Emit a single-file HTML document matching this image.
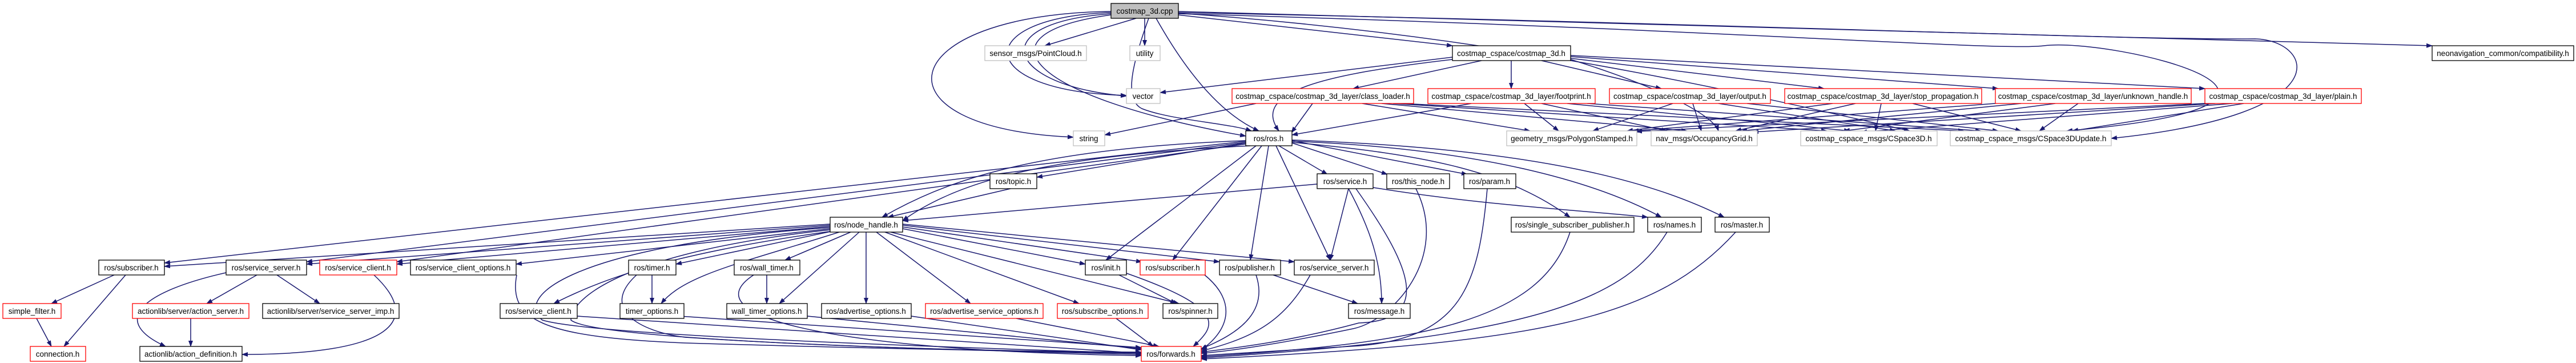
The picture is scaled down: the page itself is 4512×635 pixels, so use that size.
<!DOCTYPE html>
<html><head><meta charset="utf-8"><style>
html,body{margin:0;padding:0;background:#fff;width:4512px;height:635px;overflow:hidden}
svg{display:block}
text{font-family:"Liberation Sans",sans-serif;font-size:13.5px;fill:#000;text-anchor:middle}
.e{fill:none;stroke:#191970;stroke-width:1.5}
.k{fill:#fff;stroke:#000;stroke-width:1.3}
.r{fill:#fff;stroke:#ff0000;stroke-width:1.3}
.g{fill:#fff;stroke:#bfbfbf;stroke-width:1.3}
</style></head><body>
<svg width="4512" height="635" viewBox="0 0 4512 635" xmlns="http://www.w3.org/2000/svg">
<defs><marker id="a" markerUnits="userSpaceOnUse" markerWidth="11" markerHeight="8" refX="10" refY="4" orient="auto"><path d="M0,0 L11,4 L0,8 z" fill="#191970"/></marker></defs>
<g class="e" marker-end="url(#a)">
<path d="M1990,32 L1830,80"/>
<path d="M2005,32 L2005,80"/>
<path d="M1946,22 C1700,30 1700,160 1973,167"/>
<path d="M1946,24 C1720,40 1760,150 1973,168"/>
<path d="M1946,20 C1560,25 1520,225 1880,240"/>
<path d="M2012,32 C1980,120 1970,175 2000,190 C2050,210 2150,215 2192,229"/>
<path d="M1946,26 C1700,60 1800,170 2182,238"/>
<path d="M2025,32 C2080,130 2140,200 2205,229"/>
<path d="M2063,26 L2544,80"/>
<path d="M2063,20 L4260,80"/>
<path d="M2063,22 C3000,40 3700,70 3950,68 C4050,70 4110,200 3698,242"/>
<path d="M2063,24 C3000,50 3500,90 3580,80 C3700,65 4180,180 3620,229"/>
<path d="M2063,23 C2600,60 3000,150 3345,229"/>
<path d="M2544,100 L2032,162"/>
<path d="M2544,104 C2320,130 2190,160 2240,229"/>
<path d="M2595,106 L2370,155"/>
<path d="M2647,106 L2647,155"/>
<path d="M2700,106 L2910,155"/>
<path d="M2751,102 L3195,155"/>
<path d="M2751,99 L3500,155"/>
<path d="M2751,97 L3862,155"/>
<path d="M2751,104 C2900,150 3000,200 3010,229"/>
<path d="M2200,181 L1935,236"/>
<path d="M2299,181 L2262,232"/>
<path d="M2386,181 L2680,229"/>
<path d="M2420,181 L2955,229"/>
<path d="M2440,181 L3200,229"/>
<path d="M2455,181 L3440,229"/>
<path d="M2577,181 L2263,236"/>
<path d="M2670,181 L2730,229"/>
<path d="M2700,181 L2920,229"/>
<path d="M2745,181 L3240,229"/>
<path d="M2780,181 L3470,229"/>
<path d="M2930,181 L2790,229"/>
<path d="M2965,181 L2980,229"/>
<path d="M3010,181 L3320,229"/>
<path d="M3060,181 L3500,229"/>
<path d="M3210,181 L2850,229"/>
<path d="M3250,181 L3040,229"/>
<path d="M3295,181 L3285,229"/>
<path d="M3350,181 L3540,229"/>
<path d="M3495,181 L2860,229"/>
<path d="M3540,181 L3050,229"/>
<path d="M3600,181 L3230,229"/>
<path d="M3640,181 L3572,229"/>
<path d="M3862,181 L2866,230"/>
<path d="M3880,181 L3070,231"/>
<path d="M3910,181 L3260,231"/>
<path d="M3930,181 L3630,229"/>
<path d="M2182,250 L1816,310"/>
<path d="M2190,255 C1900,270 1700,300 1581,386"/>
<path d="M2182,246 C1800,260 1650,320 1545,380"/>
<path d="M2182,247 L288,460"/>
<path d="M2182,249 L537,458"/>
<path d="M2182,252 L695,458"/>
<path d="M2200,255 L1937,455"/>
<path d="M2210,255 L2054,455"/>
<path d="M2222,255 L2190,455"/>
<path d="M2235,255 L2330,455"/>
<path d="M2240,255 L2325,305"/>
<path d="M2263,250 L2430,305"/>
<path d="M2263,246 L2570,305"/>
<path d="M2263,249 C2500,270 2640,300 2750,380"/>
<path d="M2263,247 C2600,260 2800,320 2910,380"/>
<path d="M2263,245 C2700,260 2900,320 3020,380"/>
<path d="M1770,330 L1555,380"/>
<path d="M2307,322 L1581,386"/>
<path d="M2405,328 C2600,360 2800,370 2886,380"/>
<path d="M2362,330 C2400,400 2420,460 2420,531"/>
<path d="M2375,330 C2460,450 2520,560 2380,565 C2250,600 2150,610 2104,616"/>
<path d="M2362,330 L2330,455"/>
<path d="M2480,330 C2540,450 2440,560 2370,575 C2250,600 2150,615 2104,618"/>
<path d="M2605,330 C2590,500 2560,590 2380,605 L2104,622"/>
<path d="M2750,406 C2700,560 2500,600 2104,624"/>
<path d="M2920,406 C2850,520 2700,590 2104,626"/>
<path d="M3040,406 C2900,560 2700,600 2104,628"/>
<path d="M1454,392 L288,466"/>
<path d="M1454,394 L537,462"/>
<path d="M1454,396 L695,462"/>
<path d="M1454,400 L904,462"/>
<path d="M1460,404 L1184,462"/>
<path d="M1490,406 L1375,455"/>
<path d="M1470,406 C1300,460 1200,480 1158,531"/>
<path d="M1505,406 L1365,531"/>
<path d="M1517,406 L1517,531"/>
<path d="M1535,406 L1700,531"/>
<path d="M1550,406 L1890,531"/>
<path d="M1560,406 L2065,531"/>
<path d="M1581,400 L1901,462"/>
<path d="M1581,397 L2000,458"/>
<path d="M1581,394 L2136,458"/>
<path d="M1581,392 L2267,458"/>
<path d="M1460,404 C1200,440 1070,480 970,531"/>
<path d="M1454,402 C1100,440 1000,520 1000,560 C1050,600 1800,615 1999,620"/>
<path d="M1454,398 C1000,430 900,520 950,560 C1050,590 1800,612 1999,618"/>
<path d="M1142,481 L1142,531"/>
<path d="M1115,481 C1050,540 1120,580 1200,590 C1500,610 1800,615 1999,616"/>
<path d="M1343,481 L1343,531"/>
<path d="M1320,481 C1200,560 1500,615 1999,622"/>
<path d="M1960,481 L2060,531"/>
<path d="M1973,478 C2150,540 2130,570 2090,606"/>
<path d="M2110,481 C2170,530 2150,580 2104,612"/>
<path d="M2200,481 C2220,540 2180,580 2104,610"/>
<path d="M2230,481 L2378,531"/>
<path d="M2295,481 C2250,560 2200,590 2104,614"/>
<path d="M1190,553 L1999,608"/>
<path d="M1414,553 L1999,610"/>
<path d="M1596,553 L1999,612"/>
<path d="M1780,557 L2030,606"/>
<path d="M1955,557 L2020,606"/>
<path d="M1011,553 L1999,618"/>
<path d="M905,481 C890,560 950,590 1200,600 C1600,612 1900,616 1999,618"/>
<path d="M655,481 C740,560 690,620 424,620"/>
<path d="M396,477 C250,510 190,560 290,606"/>
<path d="M450,481 L362,531"/>
<path d="M485,481 L560,531"/>
<path d="M334,557 L334,606"/>
<path d="M200,481 L90,531"/>
<path d="M220,481 L112,606"/>
<path d="M64,557 L90,606"/>
</g>
<rect x="1946" y="6" width="118" height="26" fill="#bfbfbf" stroke="#000" stroke-width="1.3"/><text x="2005" y="24">costmap_3d.cpp</text>
<rect class="g" x="1725" y="80" width="178" height="26"/><text x="1814" y="98">sensor_msgs/PointCloud.h</text>
<rect class="g" x="1979" y="80" width="53" height="26"/><text x="2005" y="98">utility</text>
<rect class="k" x="2544" y="80" width="207" height="26"/><text x="2647" y="98">costmap_cspace/costmap_3d.h</text>
<rect class="k" x="4260" y="80" width="248" height="26"/><text x="4384" y="98">neonavigation_common/compatibility.h</text>
<rect class="g" x="1973" y="155" width="59" height="26"/><text x="2002" y="173">vector</text>
<rect class="r" x="2158" y="155" width="318" height="26"/><text x="2317" y="173">costmap_cspace/costmap_3d_layer/class_loader.h</text>
<rect class="r" x="2501" y="155" width="293" height="26"/><text x="2647" y="173">costmap_cspace/costmap_3d_layer/footprint.h</text>
<rect class="r" x="2819" y="155" width="282" height="26"/><text x="2960" y="173">costmap_cspace/costmap_3d_layer/output.h</text>
<rect class="r" x="3126" y="155" width="345" height="26"/><text x="3298" y="173">costmap_cspace/costmap_3d_layer/stop_propagation.h</text>
<rect class="r" x="3495" y="155" width="343" height="26"/><text x="3666" y="173">costmap_cspace/costmap_3d_layer/unknown_handle.h</text>
<rect class="r" x="3862" y="155" width="274" height="26"/><text x="3999" y="173">costmap_cspace/costmap_3d_layer/plain.h</text>
<rect class="g" x="1880" y="229" width="55" height="26"/><text x="1907" y="247">string</text>
<rect class="k" x="2182" y="229" width="81" height="26"/><text x="2222" y="247">ros/ros.h</text>
<rect class="g" x="2639" y="229" width="228" height="26"/><text x="2753" y="247">geometry_msgs/PolygonStamped.h</text>
<rect class="g" x="2892" y="229" width="186" height="26"/><text x="2985" y="247">nav_msgs/OccupancyGrid.h</text>
<rect class="g" x="3154" y="229" width="239" height="26"/><text x="3273" y="247">costmap_cspace_msgs/CSpace3D.h</text>
<rect class="g" x="3416" y="229" width="282" height="26"/><text x="3557" y="247">costmap_cspace_msgs/CSpace3DUpdate.h</text>
<rect class="k" x="1734" y="304" width="82" height="26"/><text x="1775" y="322">ros/topic.h</text>
<rect class="k" x="2307" y="304" width="98" height="26"/><text x="2356" y="322">ros/service.h</text>
<rect class="k" x="2429" y="304" width="110" height="26"/><text x="2484" y="322">ros/this_node.h</text>
<rect class="k" x="2564" y="304" width="91" height="26"/><text x="2609" y="322">ros/param.h</text>
<rect class="k" x="1454" y="380" width="127" height="26"/><text x="1517" y="398">ros/node_handle.h</text>
<rect class="k" x="2647" y="380" width="215" height="26"/><text x="2754" y="398">ros/single_subscriber_publisher.h</text>
<rect class="k" x="2886" y="380" width="94" height="26"/><text x="2933" y="398">ros/names.h</text>
<rect class="k" x="3004" y="380" width="95" height="26"/><text x="3051" y="398">ros/master.h</text>
<rect class="k" x="173" y="455" width="115" height="26"/><text x="230" y="473">ros/subscriber.h</text>
<rect class="k" x="396" y="455" width="141" height="26"/><text x="466" y="473">ros/service_server.h</text>
<rect class="r" x="560" y="455" width="135" height="26"/><text x="627" y="473">ros/service_client.h</text>
<rect class="k" x="719" y="455" width="185" height="26"/><text x="811" y="473">ros/service_client_options.h</text>
<rect class="k" x="1101" y="455" width="83" height="26"/><text x="1142" y="473">ros/timer.h</text>
<rect class="k" x="1286" y="455" width="115" height="26"/><text x="1343" y="473">ros/wall_timer.h</text>
<rect class="k" x="1901" y="455" width="72" height="26"/><text x="1937" y="473">ros/init.h</text>
<rect class="r" x="1997" y="455" width="114" height="26"/><text x="2054" y="473">ros/subscriber.h</text>
<rect class="k" x="2136" y="455" width="107" height="26"/><text x="2189" y="473">ros/publisher.h</text>
<rect class="k" x="2267" y="455" width="140" height="26"/><text x="2337" y="473">ros/service_server.h</text>
<rect class="r" x="5" y="531" width="102" height="26"/><text x="56" y="549">simple_filter.h</text>
<rect class="r" x="232" y="531" width="204" height="26"/><text x="334" y="549">actionlib/server/action_server.h</text>
<rect class="k" x="460" y="531" width="239" height="26"/><text x="579" y="549">actionlib/server/service_server_imp.h</text>
<rect class="k" x="876" y="531" width="135" height="26"/><text x="943" y="549">ros/service_client.h</text>
<rect class="k" x="1086" y="531" width="112" height="26"/><text x="1142" y="549">timer_options.h</text>
<rect class="k" x="1273" y="531" width="141" height="26"/><text x="1343" y="549">wall_timer_options.h</text>
<rect class="k" x="1439" y="531" width="157" height="26"/><text x="1517" y="549">ros/advertise_options.h</text>
<rect class="r" x="1621" y="531" width="206" height="26"/><text x="1724" y="549">ros/advertise_service_options.h</text>
<rect class="r" x="1852" y="531" width="159" height="26"/><text x="1931" y="549">ros/subscribe_options.h</text>
<rect class="k" x="2037" y="531" width="96" height="26"/><text x="2085" y="549">ros/spinner.h</text>
<rect class="k" x="2362" y="531" width="108" height="26"/><text x="2416" y="549">ros/message.h</text>
<rect class="r" x="53" y="606" width="97" height="26"/><text x="101" y="624">connection.h</text>
<rect class="k" x="245" y="606" width="179" height="26"/><text x="334" y="624">actionlib/action_definition.h</text>
<rect class="r" x="1999" y="606" width="105" height="26"/><text x="2051" y="624">ros/forwards.h</text>
</svg>
</body></html>
